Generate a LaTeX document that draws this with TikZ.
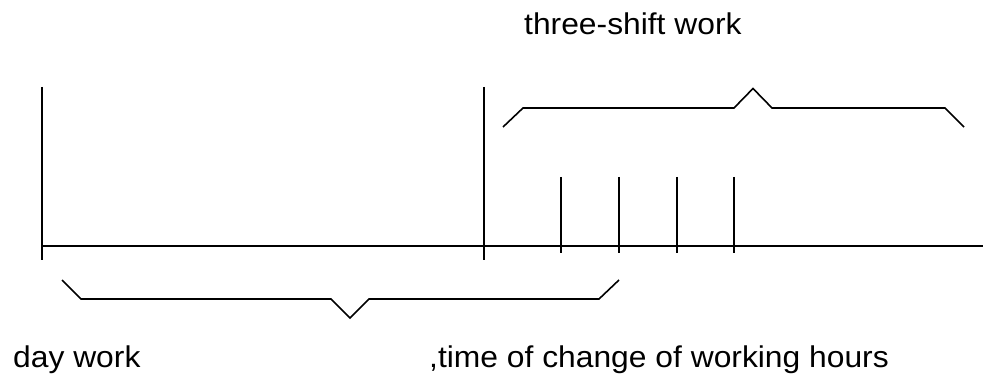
\documentclass[tikz,border=0pt]{standalone}
\usepackage{fontspec}
\setmainfont{Liberation Sans}
\newcommand{\wide}[1]{\scalebox{1.06}[1]{#1}}
\begin{document}
\begin{tikzpicture}[x=1pt,y=-1pt,
  ln/.style={line width=1.6pt,black,line join=miter},
  lbl/.style={inner sep=0pt,anchor=base west,font=\fontsize{30}{36}\selectfont}]
\useasboundingbox (0,0) rectangle (985,387);
% axis
\coordinate (ax0) at (42,246);
\coordinate (ax1) at (983,246);
\draw[ln] (ax0) -- (ax1);
% long verticals
\coordinate (v1t) at (42,87); \coordinate (v1b) at (42,260);
\coordinate (v2t) at (484,87); \coordinate (v2b) at (484,260);
\draw[ln] (v1t) -- (v1b);
\draw[ln] (v2t) -- (v2b);
% short ticks
\foreach \x/\n in {561/a,619/b,677/c,734/d}{
  \coordinate (t\n t) at (\x,177);
  \coordinate (t\n b) at (\x,253);
  \draw[ln] (t\n t) -- (t\n b);
}
% upper brace
\coordinate (ub1) at (503,127);
\coordinate (ub2) at (523,108);
\coordinate (ub3) at (734,108);
\coordinate (ub4) at (753,88.5);
\coordinate (ub5) at (772,108);
\coordinate (ub6) at (945,108);
\coordinate (ub7) at (964,127);
\draw[ln] (ub1) -- (ub2) -- (ub3) -- (ub4) -- (ub5) -- (ub6) -- (ub7);
% lower brace
\coordinate (lb1) at (62,280);
\coordinate (lb2) at (81,299);
\coordinate (lb3) at (331,299);
\coordinate (lb4) at (350,318);
\coordinate (lb5) at (369,299);
\coordinate (lb6) at (599,299);
\coordinate (lb7) at (619,280);
\draw[ln] (lb1) -- (lb2) -- (lb3) -- (lb4) -- (lb5) -- (lb6) -- (lb7);
% labels
\node[lbl] (top) at (524,35) {\wide{three-shift work}};
\node[lbl] (day) at (13,367) {\wide{day work}};
\node[lbl] (chg) at (429,367) {\wide{,time of change of working hours}};
\end{tikzpicture}
\end{document}
